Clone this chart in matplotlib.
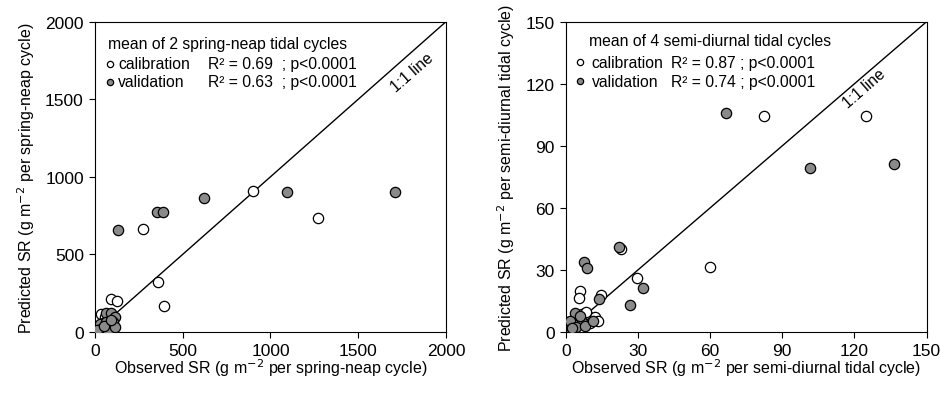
import matplotlib
matplotlib.use("Agg")
import matplotlib.pyplot as plt

plt.rcParams['font.family'] = ['Liberation Sans', 'DejaVu Sans']

# Left panel: spring-neap (g m-2 per spring-neap cycle)
sn_cal_obs = [900, 1270, 273, 360, 393, 93, 124, 36, 55, 20, 80, 10, 45]
sn_cal_pred = [910, 735, 665, 325, 170, 213, 198, 116, 95, 15, 40, 30, 60]
sn_val_obs = [131, 353, 387, 621, 1092, 1709, 64, 93, 112, 27, 64, 103, 36, 74, 112, 10, 50, 90]
sn_val_pred = [658, 774, 774, 865, 904, 905, 123, 123, 95, 52, 62, 62, 19, 9, 30, 10, 35, 80]

# Right panel: semi-diurnal (g m-2 per semi-diurnal tidal cycle)
sd_cal_obs = [82.3, 124.7, 59.9, 29.4, 23.1, 5.8, 5.3, 14.8, 9.3, 12.0, 13.4, 6.5, 8.5, 3.0, 10.0]
sd_cal_pred = [104.2, 104.2, 31.4, 26.0, 40.3, 20.0, 16.3, 18.0, 7.9, 7.1, 5.5, 8.5, 9.5, 4.0, 4.5]
sd_val_obs = [66.5, 101.5, 136.5, 31.9, 26.6, 7.6, 8.9, 22.0, 13.9, 3.7, 1.7, 6.5, 4.4, 7.9, 11.4, 5.8, 2.5]
sd_val_pred = [105.8, 79.1, 81.0, 21.2, 13.1, 33.8, 30.9, 41.0, 16.0, 9.2, 5.5, 4.7, 2.3, 3.0, 5.5, 7.6, 2.0]

sn_ticks = [0, 500, 1000, 1500, 2000]
sd_ticks = [0, 30, 60, 90, 120, 150]

gray = '#8a8a8a'

fig = plt.figure(figsize=(9.4, 4.06), dpi=100)
axL = fig.add_axes([0.101, 0.180, 0.3734, 0.764])
axR = fig.add_axes([0.602, 0.180, 0.3837, 0.764])

panels = [
    (axL, sn_cal_obs, sn_cal_pred, sn_val_obs, sn_val_pred, sn_ticks,
     'mean of 2 spring-neap tidal cycles',
     'R² = 0.69  ; p<0.0001', 'R² = 0.63  ; p<0.0001',
     'Observed SR (g m$^{-2}$ per spring-neap cycle)',
     'Predicted SR (g m$^{-2}$ per spring-neap cycle)',
     (0.037, 0.044, 0.066, 0.322), (0.929, 0.865, 0.806), (1805, 1675), 11.3),
    (axR, sd_cal_obs, sd_cal_pred, sd_val_obs, sd_val_pred, sd_ticks,
     'mean of 4 semi-diurnal tidal cycles',
     'R² = 0.87 ; p<0.0001', 'R² = 0.74 ; p<0.0001',
     'Observed SR (g m$^{-2}$ per semi-diurnal tidal cycle)',
     'Predicted SR (g m$^{-2}$ per semi-diurnal tidal cycle)',
     (0.065, 0.040, 0.072, 0.292), (0.938, 0.870, 0.808), (124, 118), 11.3),
]

for (ax, co, cp, vo, vp, ticks, title, r1, r2, xl, yl, lp, ys, tp, fs) in panels:
    lo, hi = ticks[0], ticks[-1]
    ax.plot([lo, hi], [lo, hi], color='black', lw=1.0, zorder=1)
    ax.scatter(co, cp, s=55, facecolor='white', edgecolor='black', linewidth=0.9, zorder=3)
    ax.scatter(vo, vp, s=55, facecolor=gray, edgecolor='black', linewidth=0.9, zorder=4)
    ax.set_xlim(lo, hi)
    ax.set_ylim(lo, hi)
    ax.set_xticks(ticks)
    ax.set_yticks(ticks)
    ax.tick_params(direction='out', length=4, width=0.8, labelsize=12.5, pad=4,
                   top=False, right=False)
    for s in ax.spines.values():
        s.set_linewidth(0.8)
    ax.set_xlabel(xl, fontsize=11.5, labelpad=-1)
    ax.set_ylabel(yl, fontsize=11.5, labelpad=6)
    tx, mx, lx, rx = lp
    yt, yc, yv = ys
    ax.text(tx, yt, title, transform=ax.transAxes, fontsize=fs, va='center', ha='left')
    ax.plot([mx], [yc], marker='o', ms=4.5, mfc='white', mec='black', mew=0.9,
            transform=ax.transAxes, clip_on=False)
    ax.plot([mx], [yv], marker='o', ms=4.5, mfc=gray, mec='black', mew=0.9,
            transform=ax.transAxes, clip_on=False)
    ax.text(lx, yc, 'calibration', transform=ax.transAxes, fontsize=fs, va='center', ha='left')
    ax.text(lx, yv, 'validation', transform=ax.transAxes, fontsize=fs, va='center', ha='left')
    ax.text(rx, yc, r1, transform=ax.transAxes, fontsize=fs, va='center', ha='left')
    ax.text(rx, yv, r2, transform=ax.transAxes, fontsize=fs, va='center', ha='left')
    ax.text(tp[0], tp[1], '1:1 line', fontsize=11.3, rotation=41, ha='center', va='center',
            rotation_mode='anchor')

fig.savefig('out.png', dpi=100)
